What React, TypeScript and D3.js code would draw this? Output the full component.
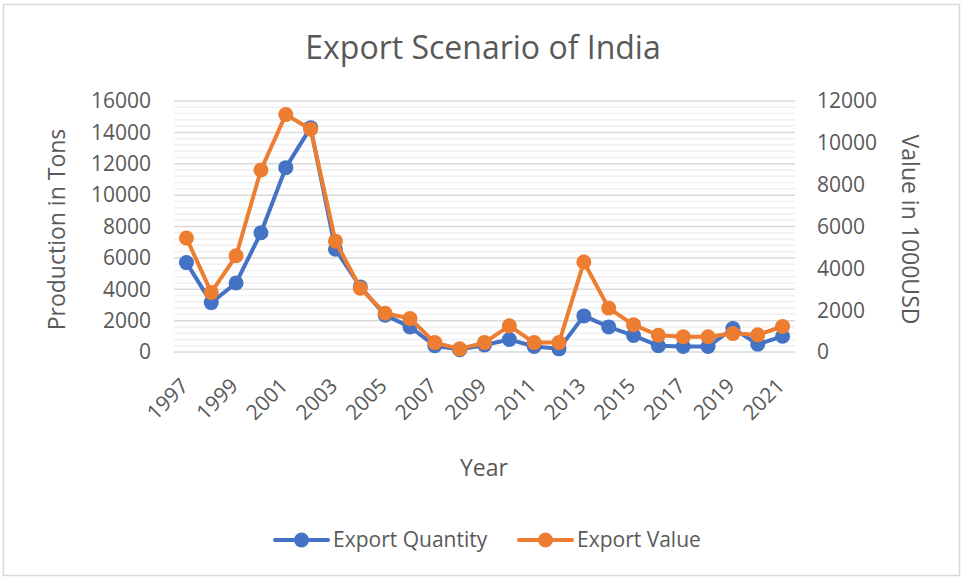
import * as d3 from 'd3';

// Chart data
const years = [
  '1997', '1998', '1999', '2000', '2001', '2002', '2003', '2004', '2005',
  '2006', '2007', '2008', '2009', '2010', '2011', '2012', '2013', '2014',
  '2015', '2016', '2017', '2018', '2019', '2020', '2021',
];
const exportQuantity = [
  5700, 3150, 4400, 7600, 11750, 14300, 6550, 4150, 2350,
  1600, 400, 150, 450, 800, 350, 200, 2300, 1600,
  1050, 400, 350, 350, 1500, 500, 1000,
];
const exportValue = [
  5450, 2850, 4600, 8700, 11350, 10650, 5300, 3050, 1850,
  1600, 450, 150, 450, 1250, 450, 450, 4300, 2100,
  1300, 800, 730, 730, 880, 820, 1220,
];
const leftTicks = [0, 2000, 4000, 6000, 8000, 10000, 12000, 14000, 16000];
const rightTicks = [0, 2000, 4000, 6000, 8000, 10000, 12000];
const seriesNames = ['Export Quantity', 'Export Value'];

const W = 964;
const H = 580;
const plot = { left: 174, right: 795, top: 101, bottom: 352 };
const BLUE = '#4472C4';
const ORANGE = '#ED7D31';
const TEXT = '#595959';
const FONT = '"Open Sans", "Liberation Sans", sans-serif';

export default function App() {
  const x = d3.scalePoint<string>()
    .domain(years)
    .range([plot.left, plot.right])
    .padding(0.5);
  const yLeft = d3.scaleLinear().domain([0, 16000]).range([plot.bottom, plot.top]);
  const yRight = d3.scaleLinear().domain([0, 12000]).range([plot.bottom, plot.top]);

  const qLine = d3.line<number>()
    .x((_, i) => x(years[i])!)
    .y(d => yLeft(d));
  const vLine = d3.line<number>()
    .x((_, i) => x(years[i])!)
    .y(d => yRight(d));

  // minor gridlines every 400 on the primary axis
  const minor = d3.range(0, 16001, 400).filter(v => v % 2000 !== 0);

  const legendY = 540;
  const legend = [
    { name: seriesNames[0], color: BLUE, x: 275 },
    { name: seriesNames[1], color: ORANGE, x: 519 },
  ];

  return (
    <svg
      width={W}
      height={H}
      style={{ position: 'absolute', left: 0, top: 0, background: '#fff' }}
      fontFamily={FONT}
    >
      <rect x={3.5} y={4.5} width={W - 8} height={H - 9} fill="#fff" stroke="#d9d9d9" strokeWidth={1.5} />

      {/* title */}
      <text x={483} y={48} dy="0.35em" textAnchor="middle" fontSize={32} fill={TEXT}>
        Export Scenario of India
      </text>

      {/* gridlines */}
      {minor.map(v => (
        <line key={'m' + v} x1={plot.left} x2={plot.right} y1={yLeft(v)} y2={yLeft(v)} stroke="#f0f0f0" strokeWidth={1.5} />
      ))}
      {leftTicks.map(v => (
        <line key={'g' + v} x1={plot.left} x2={plot.right} y1={yLeft(v)} y2={yLeft(v)} stroke="#d9d9d9" strokeWidth={1.5} />
      ))}

      {/* left axis labels */}
      {leftTicks.map(v => (
        <text key={'l' + v} x={151} y={yLeft(v)} dy="0.35em" textAnchor="end" fontSize={21} fill={TEXT}>
          {v}
        </text>
      ))}
      {/* right axis labels */}
      {rightTicks.map(v => (
        <text key={'r' + v} x={817} y={yRight(v)} dy="0.35em" textAnchor="start" fontSize={21} fill={TEXT}>
          {v}
        </text>
      ))}

      {/* x axis labels, every other year */}
      {years.filter((_, i) => i % 2 === 0).map(yr => (
        <text
          key={'x' + yr}
          transform={`translate(${x(yr)! - 2},${382}) rotate(-45)`}
          textAnchor="end"
          dy="0.35em"
          fontSize={21}
          fill={TEXT}
        >
          {yr}
        </text>
      ))}

      {/* axis titles */}
      <text transform={`translate(57,${(plot.top + plot.bottom) / 2 + 3}) rotate(-90)`} textAnchor="middle" dy="0.35em" fontSize={23} fill={TEXT}>
        Production in Tons
      </text>
      <text transform={`translate(910,${(plot.top + plot.bottom) / 2 + 3}) rotate(90)`} textAnchor="middle" dy="0.35em" fontSize={23} fill={TEXT}>
        Value in 1000USD
      </text>
      <text x={484} y={468} textAnchor="middle" dy="0.35em" fontSize={23} fill={TEXT}>
        Year
      </text>

      {/* series: quantity */}
      <path d={qLine(exportQuantity)!} fill="none" stroke={BLUE} strokeWidth={4} strokeLinejoin="round" />
      {exportQuantity.map((v, i) => (
        <circle key={'q' + i} cx={x(years[i])!} cy={yLeft(v)} r={7.5} fill={BLUE} />
      ))}
      {/* series: value */}
      <path d={vLine(exportValue)!} fill="none" stroke={ORANGE} strokeWidth={4} strokeLinejoin="round" />
      {exportValue.map((v, i) => (
        <circle key={'v' + i} cx={x(years[i])!} cy={yRight(v)} r={7.5} fill={ORANGE} />
      ))}

      {/* legend */}
      {legend.map(l => (
        <g key={l.name}>
          <line x1={l.x} x2={l.x + 53} y1={legendY} y2={legendY} stroke={l.color} strokeWidth={4} strokeLinecap="round" />
          <circle cx={l.x + 26.5} cy={legendY} r={7.5} fill={l.color} />
          <text x={l.x + 58} y={legendY} dy="0.35em" fontSize={21} fill={TEXT}>
            {l.name}
          </text>
        </g>
      ))}
    </svg>
  );
}
